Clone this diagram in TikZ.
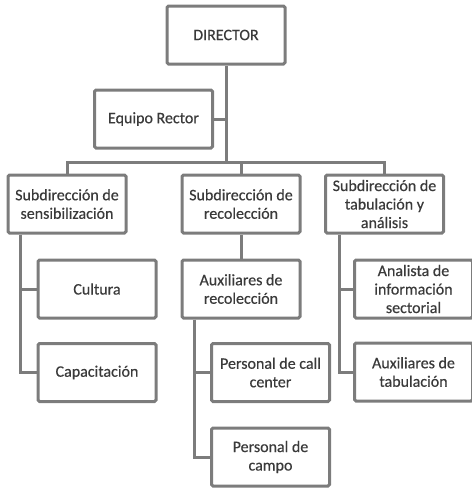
\documentclass[tikz,border=0pt]{standalone}
\usepackage{fontspec}
\setmainfont{Carlito}
\newfontfamily\orgfont{Carlito}[FakeBold=0.4]
\definecolor{boxgray}{HTML}{7C7C7C}
\definecolor{textgray}{HTML}{3A3A3A}
\tikzset{
  orgbox/.style={draw=boxgray,line width=3pt,rounded corners=1.5pt,fill=white,
    minimum width=118pt,minimum height=58pt,align=center,inner sep=1pt,
    font=\orgfont\fontsize{16}{18.5}\selectfont,text=textgray},
  orgline/.style={draw=boxgray,line width=3pt}
}
\begin{document}
\begin{tikzpicture}[x=1pt,y=-1pt]
\useasboundingbox (0,0) rectangle (472,491);
\clip (0,0) rectangle (472,491);
\node[orgbox] (director) at (226,35) {DIRECTOR};
\node[orgbox] (rector) at (153.5,119) {Equipo Rector};
\node[orgbox] (sensib) at (67,204) {Subdirección de\\sensibilización};
\node[orgbox] (recol) at (241,204) {Subdirección de\\recolección};
\node[orgbox] (tabul) at (384.5,204) {Subdirección de\\tabulación y\\análisis};
\node[orgbox] (cultura) at (97,289) {Cultura};
\node[orgbox] (capac) at (97,372.5) {Capacitación};
\node[orgbox] (auxrec) at (241,289) {Auxiliares de\\recolección};
\node[orgbox] (callc) at (270.5,372.5) {Personal de call\\center};
\node[orgbox] (campo) at (270.5,457) {Personal de\\campo};
\node[orgbox] (analista) at (413.5,289) {Analista de\\información\\sectorial};
\node[orgbox] (auxtab) at (413.5,372) {Auxiliares de\\tabulación};
\coordinate (bus) at (226,162);
\draw[orgline] (director.south) -- (bus);
\draw[orgline] (rector.east) -- (rector.east -| bus);
\draw[orgline] (sensib.north) |- (bus) -| (tabul.north);
\draw[orgline] (recol.north) -- (recol.north |- bus);
\draw[orgline] (recol.south) -- (auxrec.north);
\draw[orgline] ([xshift=14pt]sensib.south west) |- (cultura.west);
\draw[orgline] ([xshift=14pt]sensib.south west) |- (capac.west);
\draw[orgline] ([xshift=14pt]auxrec.south west) |- (callc.west);
\draw[orgline] ([xshift=14pt]auxrec.south west) |- (campo.west);
\draw[orgline] ([xshift=15pt]tabul.south west) |- (analista.west);
\draw[orgline] ([xshift=15pt]tabul.south west) |- (auxtab.west);
\end{tikzpicture}
\end{document}
